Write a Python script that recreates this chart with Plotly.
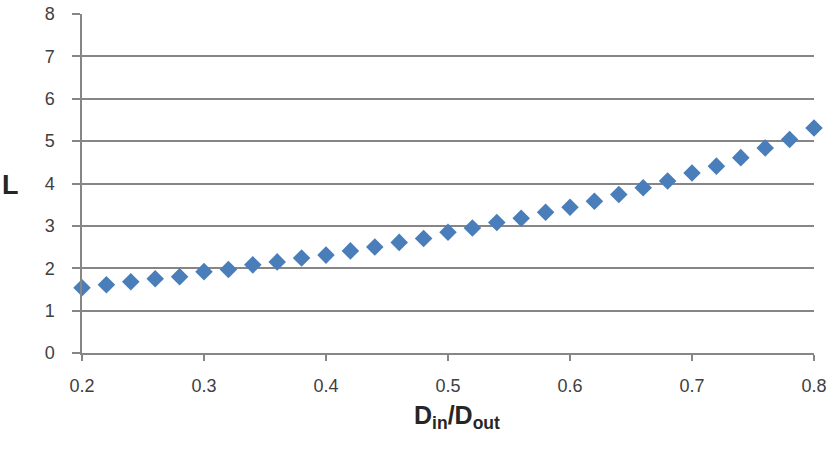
import plotly.graph_objects as go

ratio = [0.20, 0.22, 0.24, 0.26, 0.28, 0.30, 0.32, 0.34, 0.36, 0.38, 0.40,
         0.42, 0.44, 0.46, 0.48, 0.50, 0.52, 0.54, 0.56, 0.58, 0.60,
         0.62, 0.64, 0.66, 0.68, 0.70, 0.72, 0.74, 0.76, 0.78, 0.80]
L_values = [1.54, 1.61, 1.68, 1.75, 1.80, 1.92, 1.97, 2.08, 2.15, 2.24, 2.31,
            2.41, 2.50, 2.61, 2.70, 2.85, 2.95, 3.08, 3.18, 3.32, 3.44,
            3.58, 3.74, 3.90, 4.06, 4.25, 4.41, 4.61, 4.84, 5.04, 5.31]
x_ticks = [0.2, 0.3, 0.4, 0.5, 0.6, 0.7, 0.8]
y_ticks = [0, 1, 2, 3, 4, 5, 6, 7, 8]

fig = go.Figure()
fig.add_trace(go.Scatter(
    x=ratio, y=L_values, mode="markers",
    marker=dict(symbol="diamond", size=13.5, color="#4A7EBB", line=dict(width=0)),
    cliponaxis=False, showlegend=False,
))

font_family = "Liberation Sans"
tick_font = dict(family=font_family, size=18, color="#404040")
fig.update_layout(
    width=828, height=450,
    margin=dict(l=82, r=14, t=14, b=97),
    paper_bgcolor="white", plot_bgcolor="white",
    font=dict(family=font_family, size=18, color="#404040"),
)
fig.update_xaxes(
    range=[0.2, 0.8], tickvals=x_ticks, ticktext=[f"{v:.1f}" for v in x_ticks],
    showgrid=False, zeroline=False, automargin=False,
    showline=True, linecolor="#868686", linewidth=1.5,
    ticks="outside", ticklen=6, tickcolor="#868686", tickwidth=1.5,
    ticklabelstandoff=10,
    tickfont=tick_font,
)
fig.update_yaxes(
    range=[0, 8], tickvals=y_ticks,
    showgrid=True, gridcolor="#868686", gridwidth=1.5,
    zeroline=False, automargin=False,
    showline=True, linecolor="#868686", linewidth=1.5,
    ticks="outside", ticklen=8, tickcolor="#868686", tickwidth=1.5,
    ticklabelstandoff=14,
    tickfont=tick_font,
)
fig.add_annotation(
    text="<b>D<sub>in</sub>/D<sub>out</sub></b>",
    xref="paper", yref="paper", x=0.512, y=-0.188, xanchor="center", yanchor="middle",
    showarrow=False, font=dict(family=font_family, size=25, color="#262626"),
)
fig.add_annotation(
    text="<b>L</b>",
    xref="paper", yref="paper", x=-0.097, y=0.495, xanchor="center", yanchor="middle",
    showarrow=False, font=dict(family=font_family, size=27, color="#262626"),
)

fig.write_html("out.html")
